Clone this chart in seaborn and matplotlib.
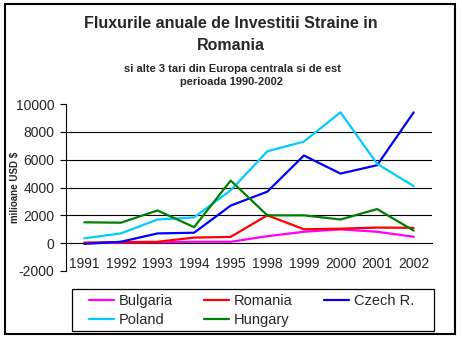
import matplotlib
matplotlib.use("Agg")
import matplotlib.pyplot as plt
from matplotlib.patches import Rectangle
from matplotlib.ticker import FixedLocator
import seaborn as sns
import pandas as pd

# ---- data ----
years = ["1991", "1992", "1993", "1994", "1995", "1998", "1999", "2000", "2001", "2002"]
bulgaria = [0, 40, 60, 100, 100, 500, 820, 990, 820, 460]
romania = [40, 80, 100, 400, 450, 2000, 1000, 1040, 1120, 1100]
czech = [-50, 100, 700, 750, 2700, 3700, 6300, 5000, 5600, 9400]
poland = [350, 700, 1700, 1850, 3800, 6600, 7300, 9400, 5700, 4100]
hungary = [1500, 1470, 2350, 1150, 4500, 2000, 2000, 1700, 2450, 900]
series_names = ["Bulgaria", "Romania", "Czech R.", "Poland", "Hungary"]
series_values = [bulgaria, romania, czech, poland, hungary]
palette = {"Bulgaria": "#FF00FF", "Romania": "#FF0000", "Czech R.": "#0000FF",
           "Poland": "#00CCFF", "Hungary": "#008000"}
y_ticks = [-2000, 0, 2000, 4000, 6000, 8000, 10000]
grid_levels = [2000, 4000, 6000, 8000]

title_lines = ["Fluxurile anuale de Investitii Straine in", "Romania"]
subtitle_lines = ["si alte 3 tari din Europa centrala si de est", "perioada 1990-2002"]
y_label = "milioane USD $"

rows = []
for name, vals in zip(series_names, series_values):
    for i, (yr, v) in enumerate(zip(years, vals)):
        rows.append({"idx": i, "year": yr, "value": v, "country": name})
df = pd.DataFrame(rows)

sns.set_style("white")
plt.rcParams["font.family"] = ["Liberation Sans", "DejaVu Sans"]

W, H = 462, 339
fig = plt.figure(figsize=(W / 100, H / 100), dpi=100)
ax = fig.add_axes([66 / W, 1 - 271 / H, (432 - 66) / W, (271 - 104) / H])

for g in grid_levels:
    ax.axhline(g, color="black", lw=0.8, zorder=1)

sns.lineplot(data=df, x="idx", y="value", hue="country", hue_order=series_names,
             palette=palette, linewidth=1.6, sort=False, ax=ax, zorder=3)

handles, labels = ax.get_legend_handles_labels()
ax.get_legend().remove()

ax.set_xlim(-0.5, len(years) - 0.5)
ax.set_ylim(-2000, 10000)
ax.set_yticks(y_ticks)
ax.set_yticklabels([str(v) for v in y_ticks], fontsize=10)
ax.set_xticks(range(len(years)))
ax.set_xticklabels(years, fontsize=10)
ax.xaxis.set_minor_locator(FixedLocator([i - 0.5 for i in range(len(years) + 1)]))
ax.tick_params(axis="x", which="major", length=0, pad=10)
ax.tick_params(axis="x", which="minor", length=3.2, width=0.8, direction="out", color="black")
ax.tick_params(axis="y", which="major", length=4.5, width=0.8, direction="out", pad=4, color="black", left=True)
ax.set_xlabel("")
ax.set_ylabel("")

for s in ["top", "right"]:
    ax.spines[s].set_visible(False)
ax.spines["bottom"].set_position(("data", 0))
ax.spines["bottom"].set_color("black")
ax.spines["bottom"].set_linewidth(0.8)
ax.spines["left"].set_color("black")
ax.spines["left"].set_linewidth(0.8)
ax.patch.set_alpha(0)

# titles
fig.text(231 / W, 1 - 24 / H, title_lines[0], ha="center", va="center", fontsize=11.5, fontweight="bold")
fig.text(231 / W, 1 - 45 / H, title_lines[1], ha="center", va="center", fontsize=11.5, fontweight="bold")
fig.text(233 / W, 1 - 68.5 / H, subtitle_lines[0], ha="center", va="center", fontsize=8, fontweight="bold")
fig.text(231 / W, 1 - 82 / H, subtitle_lines[1], ha="center", va="center", fontsize=8, fontweight="bold")
fig.text(15 / W, 1 - 187 / H, y_label, ha="center", va="center", rotation=90, fontsize=7, fontweight="bold")

# legend (column-major order to get row layout of reference)
order = ["Bulgaria", "Poland", "Romania", "Hungary", "Czech R."]
hmap = dict(zip(labels, handles))
fig.legend([hmap[n] for n in order], order, loc="center",
           bbox_to_anchor=(251.5 / W, 1 - 310.5 / H), ncol=3, frameon=False,
           fontsize=10.5, handlelength=1.7, handletextpad=0.3, columnspacing=2.2,
           labelspacing=0.3, borderpad=0)
fig.add_artist(Rectangle((72 / W, 1 - 331 / H), 362 / W, 42 / H, transform=fig.transFigure,
                         fill=False, edgecolor="black", lw=0.9))
fig.add_artist(Rectangle((5 / W, 1 - 334 / H), 450 / W, 330 / H, transform=fig.transFigure,
                         fill=False, edgecolor="black", lw=1.5))

fig.savefig("out.png", dpi=100)
